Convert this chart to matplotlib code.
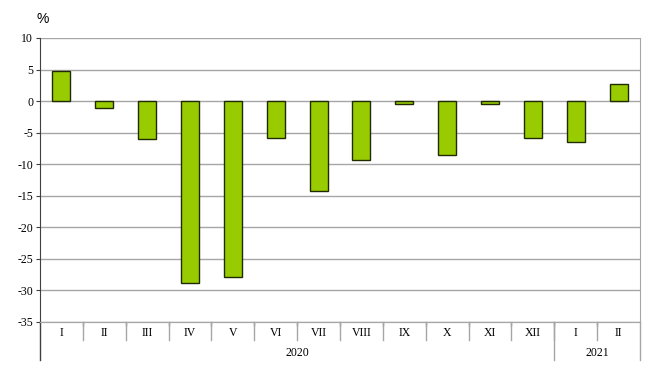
import matplotlib
matplotlib.use("Agg")
import matplotlib.pyplot as plt
import numpy as np

months = ["I", "II", "III", "IV", "V", "VI", "VII", "VIII", "IX", "X", "XI", "XII", "I", "II"]
values = [4.7, -1.1, -6.0, -28.9, -27.8, -5.9, -14.3, -9.3, -0.4, -8.6, -0.4, -5.9, -6.5, 2.7]
years = ["2020", "2021"]
year_counts = [12, 2]
yticks = [10, 5, 0, -5, -10, -15, -20, -25, -30, -35]

serif = ["Liberation Serif", "DejaVu Serif"]

fig = plt.figure(figsize=(6.46, 3.71), dpi=100)
ax = fig.add_axes([0.0619, 0.1321, 0.9288, 0.7655])

x = np.arange(len(months))
ax.bar(x, values, width=0.42, color="#99cc00", edgecolor="#1f2a00", linewidth=1.0, zorder=3)

ax.set_xlim(-0.5, len(months) - 0.5)
ax.set_ylim(-35, 10)
ax.set_yticks(yticks)
ax.set_yticklabels([str(v) for v in yticks], fontfamily=serif, fontsize=8.5)
ax.yaxis.grid(True, color="#a6a6a6", linewidth=1.0, zorder=0)
ax.tick_params(axis="y", length=3, color="#404040", pad=2)

for s in ["top"]:
    ax.spines[s].set_visible(False)
ax.spines["right"].set_color("#a6a6a6")
ax.spines["bottom"].set_color("#a6a6a6")
ax.spines["left"].set_color("#404040")

# Month labels
ax.set_xticks([])
trans = ax.get_xaxis_transform()
for i, m in enumerate(months):
    ax.text(i, -0.04, m, transform=trans, ha="center", va="center",
            fontfamily=serif, fontsize=8.5, color="#000000")

# separators between months
for b in np.arange(0.5, len(months) - 0.5, 1.0):
    ax.plot([b, b], [0, -0.065], transform=trans, color="#a6a6a6", lw=1.0, clip_on=False)

# year labels and separators
start = -0.5
bounds = [start]
for name, cnt in zip(years, year_counts):
    end = start + cnt
    ax.text((start + end) / 2, -0.11, name, transform=trans, ha="center", va="center",
            fontfamily=serif, fontsize=8.5)
    bounds.append(end)
    start = end
for b in bounds:
    col = "#404040" if b == bounds[0] else "#a6a6a6"
    ax.plot([b, b], [0, -0.135], transform=trans, color=col, lw=1.0, clip_on=False)

# tick marks on the zero line
sec = ax.secondary_xaxis(0)
sec.set_xticks(np.arange(0.5, len(months) - 0.5, 1.0))
sec.set_xticklabels([])
sec.tick_params(axis="x", direction="out", length=3, color="#808080", width=1)
sec.spines["bottom"].set_color("#a6a6a6")

fig.text(0.056, 0.95, "%", fontfamily=["Liberation Sans", "DejaVu Sans"], fontsize=10, ha="left", va="center")

fig.savefig("out.png", dpi=100)
